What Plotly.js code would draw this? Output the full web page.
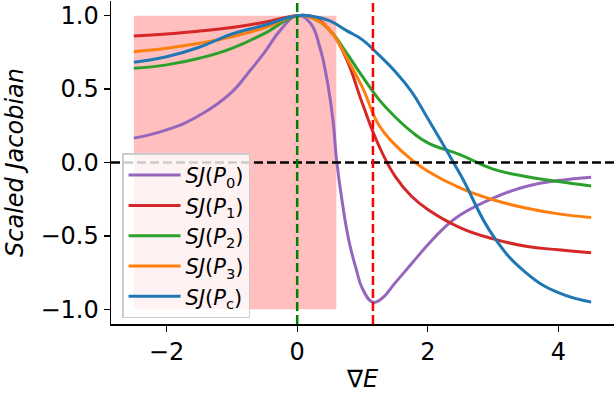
<!DOCTYPE html>
<html>
<head>
<meta charset="utf-8">
<script src="https://cdn.plot.ly/plotly-3.0.1.min.js"></script>
<style>
  html, body { margin: 0; padding: 0; background: #ffffff; }
  #grafico { width: 616px; height: 393px; }
</style>
</head>
<body>
<div id="grafico"></div>
<script>
// Valores
const xP0 = [-2.5, -2, -1.5, -1, -0.75, -0.5, -0.25, 0, 0.2, 0.35, 0.45, 0.55, 0.6, 0.7, 0.8, 0.9, 1.0, 1.16, 1.3, 1.5, 1.75, 2, 2.25, 2.5, 3, 3.5, 4, 4.5];
const sjP0 = [0.166, 0.222, 0.32, 0.48, 0.61, 0.75, 0.905, 1.0, 0.95, 0.78, 0.58, 0.28, 0.03, -0.30, -0.55, -0.72, -0.86, -0.952, -0.925, -0.82, -0.69, -0.56, -0.445, -0.356, -0.242, -0.163, -0.123, -0.10];

const xComum = [-2.5, -2, -1.5, -1, -0.5, 0, 0.25, 0.5, 0.75, 1, 1.25, 1.5, 1.75, 2, 2.5, 3, 3.5, 4, 4.5];
const sjP1 = [0.862, 0.875, 0.895, 0.92, 0.955, 1.0, 0.99, 0.90, 0.71, 0.40, 0.115, -0.095, -0.23, -0.32, -0.445, -0.52, -0.57, -0.595, -0.615];
const sjP2 = [0.642, 0.665, 0.71, 0.778, 0.88, 1.0, 0.98, 0.90, 0.75, 0.585, 0.43, 0.31, 0.21, 0.134, 0.052, -0.045, -0.095, -0.13, -0.16];
const sjP3 = [0.755, 0.778, 0.812, 0.857, 0.918, 1.0, 0.98, 0.90, 0.72, 0.51, 0.255, 0.12, 0.02, -0.06, -0.175, -0.254, -0.31, -0.35, -0.374];
const sjPc = [0.683, 0.72, 0.785, 0.875, 0.935, 1.0, 0.995, 0.965, 0.90, 0.835, 0.733, 0.62, 0.483, 0.30, -0.084, -0.50, -0.75, -0.887, -0.95];

const nomes = ['<i>SJ</i>(<i>P</i><sub>0</sub>)', '<i>SJ</i>(<i>P</i><sub>1</sub>)', '<i>SJ</i>(<i>P</i><sub>2</sub>)', '<i>SJ</i>(<i>P</i><sub>3</sub>)', '<i>SJ</i>(<i>P</i><sub>c</sub>)'];
const cores = ['#9467bd', '#d62728', '#2ca02c', '#ff7f0e', '#1f77b4'];

// região sombreada e linhas de referência
const faixaX = [-2.5, 0.6];
const faixaY = [-1, 1];
const linhaVerde = 0;
const linhaVermelha = 1.16;

const series = [[xP0, sjP0], [xComum, sjP1], [xComum, sjP2], [xComum, sjP3], [xComum, sjPc]];

const data = series.map((s, i) => ({
    x: s[0],
    y: s[1],
    name: nomes[i],
    type: 'scatter',
    mode: 'lines',
    line: { color: cores[i], width: 3, shape: 'spline', smoothing: 1.3 }
}));

const tracejado = '9px,4px';

const layout = {
    width: 616,
    height: 393,
    margin: { l: 111, r: 2, t: 1, b: 69 },
    paper_bgcolor: '#ffffff',
    plot_bgcolor: '#ffffff',
    font: { family: 'DejaVu Sans', size: 24, color: '#000000' },
    showlegend: true,
    legend: {
        x: 0.022, y: 0.528, xanchor: 'left', yanchor: 'top',
        bgcolor: 'rgba(255,255,255,0.8)',
        bordercolor: '#cccccc', borderwidth: 1.5,
        font: { family: 'DejaVu Sans', size: 21 },
        itemwidth: 52,
        tracegroupgap: 0
    },
    xaxis: {
        range: [-2.85, 4.85],
        tickvals: [-2, 0, 2, 4],
        ticks: 'outside', ticklen: 6, tickwidth: 1.2, tickcolor: '#000',
        showline: true, linecolor: '#000', linewidth: 1.5,
        showgrid: false, zeroline: false,
        tickfont: { size: 24 },
        title: { text: '∇<i>E</i>', font: { size: 24 }, standoff: 6 }
    },
    yaxis: {
        range: [-1.1, 1.1],
        tickvals: [-1, -0.5, 0, 0.5, 1],
        tickformat: '.1f',
        ticks: 'outside', ticklen: 6, tickwidth: 1.2, tickcolor: '#000',
        showline: true, linecolor: '#000', linewidth: 1.5,
        showgrid: false, zeroline: false,
        tickfont: { size: 24 },
        title: { text: '<i>Scaled Jacobian</i>', font: { size: 24 }, standoff: 10 }
    },
    shapes: [
        { type: 'rect', layer: 'below', xref: 'x', yref: 'y', x0: faixaX[0], x1: faixaX[1], y0: faixaY[0], y1: faixaY[1],
          fillcolor: 'rgba(255,0,0,0.25)', line: { width: 0 } },
        { type: 'line', layer: 'above', xref: 'paper', yref: 'y', x0: 0, x1: 1, y0: 0, y1: 0,
          line: { color: '#000000', width: 2.5, dash: tracejado } },
        { type: 'line', layer: 'above', xref: 'x', yref: 'paper', x0: linhaVerde, x1: linhaVerde, y0: 0, y1: 1,
          line: { color: '#008000', width: 2.5, dash: tracejado } },
        { type: 'line', layer: 'above', xref: 'x', yref: 'paper', x0: linhaVermelha, x1: linhaVermelha, y0: 0, y1: 1,
          line: { color: '#ff0000', width: 2.5, dash: tracejado } }
    ]
};

Plotly.newPlot('grafico', data, layout, { displayModeBar: false, staticPlot: true });
</script>
</body>
</html>
